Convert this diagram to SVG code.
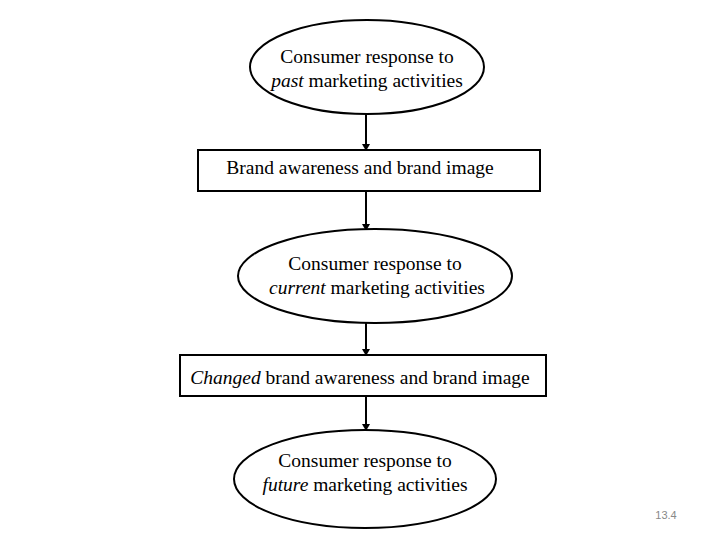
<svg xmlns="http://www.w3.org/2000/svg" width="720" height="540" viewBox="0 0 720 540">
<style>
.s{fill:#fff;stroke:#000;stroke-width:2}
.t{font-family:"Liberation Serif",serif;font-size:19.5px;fill:#000;text-anchor:middle}
.c{stroke:#000;stroke-width:2;fill:none;marker-end:url(#a)}
</style>
<defs><marker id="a" markerWidth="8" markerHeight="8" refX="6" refY="4" orient="auto" markerUnits="userSpaceOnUse"><path d="M0,0 L7,4 L0,8 z" fill="#000"/></marker></defs>
<rect width="720" height="540" fill="#fff"/>
<g id="connectors">
<line class="c" x1="366" y1="114" x2="366" y2="150"/>
<line class="c" x1="366" y1="191" x2="366" y2="230"/>
<line class="c" x1="366" y1="323" x2="366" y2="355"/>
<line class="c" x1="366" y1="396" x2="366" y2="430"/>
</g>
<g id="n1"><ellipse class="s" cx="367" cy="67" rx="117" ry="47"/>
<text class="t" x="367" y="63">Consumer response to</text>
<text class="t" x="367" y="87"><tspan font-style="italic">past</tspan> marketing activities</text></g>
<g id="n2"><rect class="s" x="198" y="150" width="342" height="41"/>
<text class="t" x="360" y="174">Brand awareness and brand image</text></g>
<g id="n3"><ellipse class="s" cx="375" cy="276" rx="137" ry="47"/>
<text class="t" x="375" y="270">Consumer response to</text>
<text class="t" x="377" y="294"><tspan font-style="italic">current</tspan> marketing activities</text></g>
<g id="n4"><rect class="s" x="180" y="355" width="366" height="41"/>
<text class="t" x="360" y="384"><tspan font-style="italic">Changed</tspan> brand awareness and brand image</text></g>
<g id="n5"><ellipse class="s" cx="365" cy="479" rx="131" ry="49"/>
<text class="t" x="365" y="467">Consumer response to</text>
<text class="t" x="365" y="491"><tspan font-style="italic">future</tspan> marketing activities</text></g>
<text x="666" y="519" font-family="Liberation Sans,sans-serif" font-size="11" fill="#888" text-anchor="middle">13.4</text>
</svg>
